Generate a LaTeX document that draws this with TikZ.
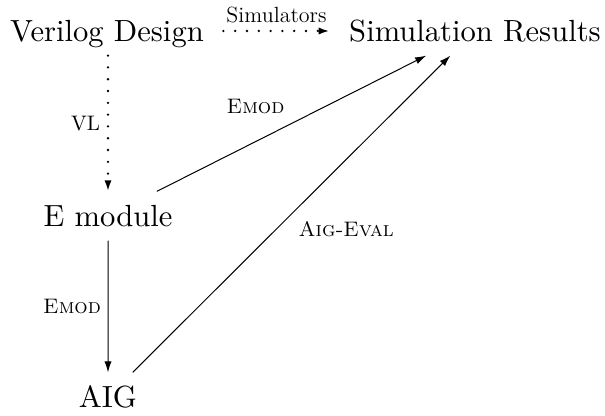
\documentclass[tikz,border=0pt]{standalone}
\usetikzlibrary{arrows.meta}
\begin{document}
\begin{tikzpicture}[x=0.5pt,y=-0.5pt,
  nd/.style={font=\fontsize{10}{12}\selectfont, scale=1.53, transform shape, text height=9.15pt, text depth=1.96pt, inner xsep=6.2pt, inner ysep=2.3pt, anchor=base},
  lb/.style={font=\fontsize{10.5}{12}\selectfont, inner sep=3.3pt},
  arr/.style={-{Latex[length=5.5pt,width=3.6pt]}, line width=0.5pt},
  dotarr/.style={arr, line width=1.3pt, line cap=round, dash pattern=on 0pt off 5.9pt}]
\useasboundingbox (0,0) rectangle (605,416);
\node[nd] (vd) at (107,42) {Verilog Design};
\node[nd] (sr) at (475,42) {Simulation Results};
\node[nd] (em) at (108,227) {E module};
\node[nd] (aig) at (108,408) {AIG};
\draw[dotarr] (vd) -- node[lb, above, font=\fontsize{11}{13}\selectfont] {Simulators} (sr);
\draw[dotarr] (vd.south -| em) -- node[lb, left] {VL} (em);
\draw[arr] (em) -- node[lb, left] {\textsc{Emod}} (aig);
\draw[arr] (em) -- node[lb, pos=0.5, anchor=south east, yshift=1.5pt] {\textsc{Emod}} (sr);
\draw[arr] (aig) -- node[lb, pos=0.5, anchor=north west] {\textsc{Aig-Eval}} (sr);
\end{tikzpicture}
\end{document}
